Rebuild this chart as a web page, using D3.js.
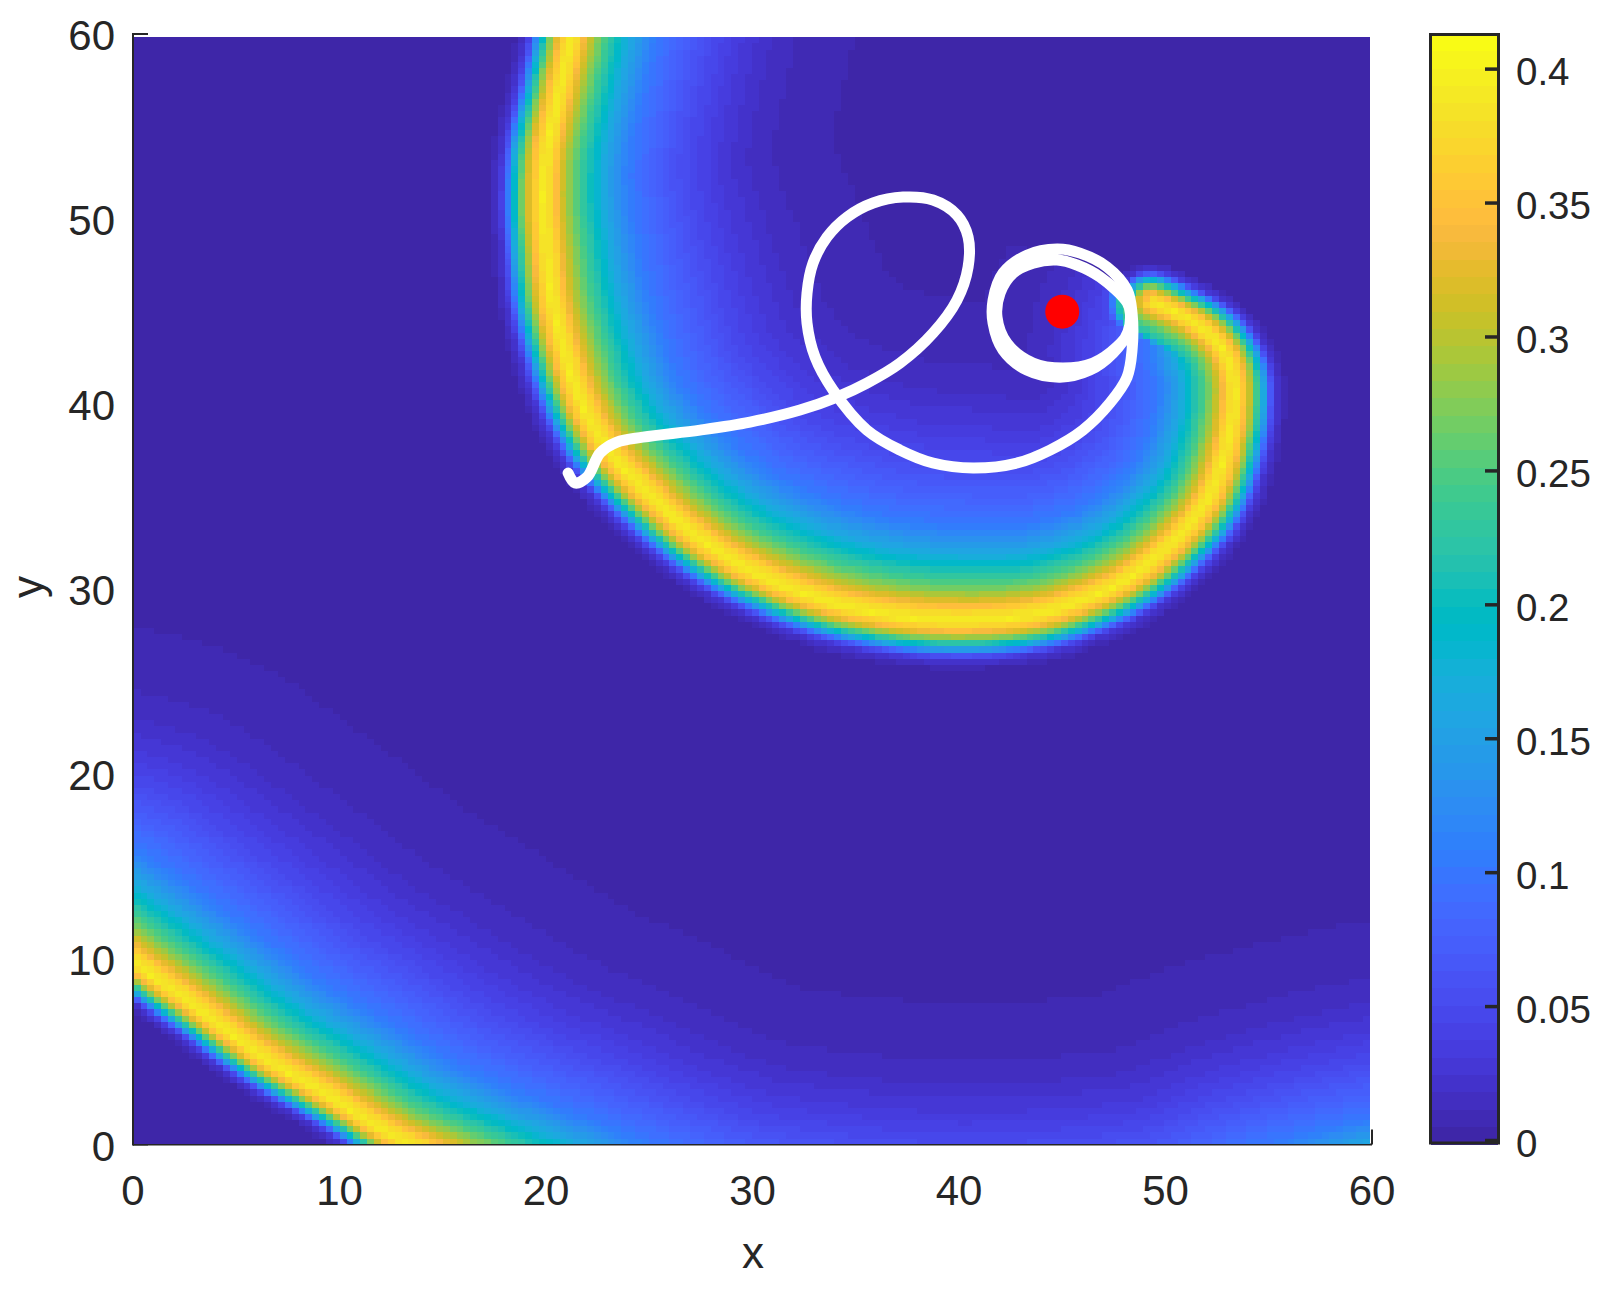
<!DOCTYPE html>
<html><head><meta charset="utf-8">
<style>html,body{margin:0;padding:0;background:#fff}svg{display:block}text{font-family:"Liberation Sans",Arial,sans-serif;fill:#262626}</style>
<script src="https://cdn.jsdelivr.net/npm/d3@7"></script>
</head><body><svg id="c" width="1606" height="1292"></svg>
<script>
// Parula colour map (64 levels)
const parula=[[.2422,.1504,.6603],[.2504,.1650,.7076],[.2578,.1818,.7511],[.2647,.1978,.7952],[.2706,.2147,.8364],[.2751,.2342,.8710],[.2783,.2559,.8991],[.2803,.2782,.9221],[.2813,.3006,.9414],[.2810,.3228,.9579],[.2795,.3447,.9717],[.2760,.3667,.9829],[.2699,.3892,.9906],[.2602,.4123,.9952],[.2440,.4358,.9988],[.2206,.4603,.9973],[.1963,.4847,.9892],[.1834,.5074,.9798],[.1786,.5289,.9682],[.1764,.5499,.9520],[.1687,.5703,.9359],[.1540,.5902,.9218],[.1460,.6091,.9079],[.1380,.6276,.8973],[.1248,.6459,.8883],[.1113,.6635,.8763],[.0952,.6798,.8598],[.0689,.6948,.8394],[.0297,.7082,.8163],[.0036,.7203,.7917],[.0067,.7312,.7660],[.0433,.7411,.7394],[.0964,.7500,.7120],[.1408,.7584,.6842],[.1717,.7670,.6554],[.1938,.7758,.6251],[.2161,.7843,.5923],[.2470,.7918,.5567],[.2906,.7973,.5188],[.3406,.8008,.4789],[.3909,.8029,.4354],[.4456,.8024,.3909],[.5044,.7993,.3480],[.5616,.7942,.3045],[.6174,.7876,.2612],[.6720,.7793,.2227],[.7242,.7698,.1910],[.7738,.7598,.1646],[.8203,.7498,.1535],[.8634,.7406,.1596],[.9035,.7330,.1774],[.9393,.7288,.2100],[.9728,.7298,.2394],[.9956,.7434,.2371],[.9970,.7659,.2199],[.9952,.7893,.2028],[.9892,.8136,.1885],[.9786,.8386,.1766],[.9676,.8639,.1643],[.9610,.8890,.1537],[.9597,.9135,.1423],[.9628,.9373,.1265],[.9691,.9606,.1064],[.9769,.9839,.0805]];

const xTicks=[0,10,20,30,40,50,60];
const yTicks=[0,10,20,30,40,50,60];
const cTicks=[0,0.05,0.1,0.15,0.2,0.25,0.3,0.35,0.4];
const cTickLabels=["0","0.05","0.1","0.15","0.2","0.25","0.3","0.35","0.4"];

// Wave crest: [x, y, tail stretch, front stretch, tail cut-off]
const crestUpper=[[21.6,62,.85,1,0],[21.2,60,.85,1,0],[20.5,56.5,.85,1,0],[19.95,53.7,.87,1,0],[19.8,51,.9,1,0],[19.95,48.3,.95,1,0],[20.2,45.6,1,1,0],[20.8,42.9,1.02,1,0],[21.6,40.2,1.03,1,0],[22.95,37.5,1.05,1,0],[25.2,34.8,1.05,1,0],[27.5,32.6,1.05,1,0],[30,30.9,1.08,1,0],[33.3,29.4,1.1,1,0],[36.5,28.6,1.1,1,0],[39.7,28.3,1.1,1,0],[43,28.5,1.05,1,0],[45.5,29.2,1,1,0],[48.2,30.6,.95,1,0],[50.6,32.8,.9,1,0],[52.2,35.2,.85,1,0],[53.1,38.4,.8,.97,0],[53.3,41.1,.78,.95,0],[52.8,42.9,.75,.9,0],[51.7,44.2,.72,.85,2],[50.1,45.2,.7,.8,7],[49.3,45.6,.7,.8,9]];
const crestLower=[[-2,11.4,1.05,.8,0],[0,9.8,1.05,.8,0],[2.9,7.45,1.05,.8,0],[6.15,4.75,1.05,.8,0],[9.4,2.6,1.05,.8,0],[12.9,.2,1.05,.8,0],[17,-1.6,1,.8,0],[20,-2.9,1,.8,0],[25,-4.8,.95,.8,0],[30,-6.4,.95,.8,0],[40,-7.4,.95,.8,0],[50,-6.6,.95,.8,0],[55,-4.7,.95,.8,0],[60,-3.2,.95,.8,0],[64,-2.6,.95,.8,0],[72,-2.6,.95,.8,0],[80,-2.6,.95,.8,0]];
// Cross-section of a crest: value against distance behind and ahead of it
const tailDist=[0,.5,.8,1.45,2.1,2.75,3.4,4.7,6.3,7.9,9.5,11.6,14,17];
const tailVal=[.395,.37,.335,.28,.235,.195,.16,.105,.075,.05,.032,.015,.007,.004];
const frontDist=[0,.5,1,1.45,1.85,2.1,2.6];
const frontVal=[.395,.35,.27,.17,.06,.025,.004];

// Tip trajectory
const pathX=[21.07,21.40,21.99,22.62,23.44,24.70,27.46,29.88,32.30,34.09,35.54,37.14,38.74,39.90,40.44,40.44,39.90,38.74,37.29,35.84,34.58,33.61,32.93,32.64,32.64,33.03,33.90,35.54,37.14,38.74,40.68,42.81,44.41,46.00,47.31,48.14,48.38,48.38,48.14,47.17,45.86,44.75,43.29,42.13,41.65,41.65,42.13,43.29,44.89,46.34,47.46,48.18,48.30,48.14,46.83,45.71,44.75,43.58,42.62,41.99,41.84,42.32,43.58,45.04,46.49,47.65,48.28,48.38];
const pathY=[36.28,35.74,36.06,37.36,37.95,38.22,38.60,39.03,39.68,40.38,41.14,42.22,43.84,45.62,47.41,49.03,50.22,51.03,51.19,50.87,50.11,49.03,47.62,46.00,44.38,42.54,40.76,38.60,37.52,36.82,36.55,36.82,37.52,38.60,40.06,41.46,42.92,44.92,46.17,47.41,48.16,48.38,48.05,47.08,45.62,44.38,42.92,41.84,41.46,41.84,42.76,43.90,44.90,45.50,46.87,47.52,47.79,47.62,47.08,46.00,44.70,43.30,42.22,41.95,42.22,43.10,44.00,44.70];
const coreX=[45], coreY=[45];

const gridCols=180, gridRows=180, imageXMax=59.87, imageYMax=59.84;
const colorMin=-0.0013, colorMax=0.4133;

const svg=d3.select("#c");
const x=d3.scaleLinear().domain([0,60]).range([133,1372]);
const y=d3.scaleLinear().domain([0,60]).range([1144.5,34]);
const cY=d3.scaleLinear().domain([colorMin,colorMax]).range([1144,33.5]);
const idx=d3.scaleQuantize().domain([colorMin,colorMax]).range(d3.range(64));
const rgb=c=>d3.rgb(c[0]*255,c[1]*255,c[2]*255).formatHex();
const fill=v=>rgb(parula[idx(v)]);
const tailP=d3.scaleLinear().domain(tailDist).range(tailVal).clamp(true);
const frontP=d3.scaleLinear().domain(frontDist).range(frontVal).clamp(true);

// smooth a read-off crest so it has no corners
function smooth(c,n){
  const out=[];
  for(let i=0;i<c.length-1;i++){
    const p0=c[Math.max(0,i-1)],p1=c[i],p2=c[i+1],p3=c[Math.min(c.length-1,i+2)];
    for(let k=0;k<n;k++){
      const t=k/n;
      out.push(p1.map((_,m)=>m<2
        ?.5*(2*p1[m]+(p2[m]-p0[m])*t+(2*p0[m]-5*p1[m]+4*p2[m]-p3[m])*t*t+(3*p1[m]-p0[m]-3*p2[m]+p3[m])*t*t*t)
        :p1[m]+t*(p2[m]-p1[m])));
    }
  }
  out.push(c[c.length-1]);
  return out;
}
const upperFine=smooth(crestUpper,5), lowerFine=smooth(crestLower,5);

function crestValue(c,px,py){
  let best=1e9,frontV=0,tailMax=0,nearLeft=false;
  for(let i=0;i<c.length-1;i++){
    const a=c[i],b=c[i+1],dx=b[0]-a[0],dy=b[1]-a[1];
    const L2=dx*dx+dy*dy;
    const raw=((px-a[0])*dx+(py-a[1])*dy)/L2,t=Math.max(0,Math.min(1,raw));
    const qx=a[0]+t*dx,qy=a[1]+t*dy,d=Math.hypot(px-qx,py-qy);
    const left=dx*(py-a[1])-dy*(px-a[0])>0;
    const past=(i===c.length-2&&raw>1)?(raw-1)*Math.sqrt(L2):0;
    if(left){
      const tail=a[2]+t*(b[2]-a[2]),cut=a[4]+t*(b[4]-a[4]);
      tailMax=Math.max(tailMax,tailP(d/tail+cut*Math.max(0,d-1.8)+6*past));
    }
    if(d<best){
      best=d;nearLeft=left;
      frontV=frontP(d/(a[3]+t*(b[3]-a[3])));
    }
  }
  return nearLeft?tailMax:frontV;
}
const dxCell=imageXMax/gridCols, dyCell=imageYMax/gridRows;
const cells=[];
for(let j=0;j<gridRows;j++)for(let i=0;i<gridCols;i++){
  const px=(i+.5)*dxCell,py=(j+.5)*dyCell;
  cells.push({i,j,v:Math.max(crestValue(upperFine,px,py),crestValue(lowerFine,px,py),.004)});
}

// axes (drawn beneath the image, as in the original)
const ax=svg.append("g");
ax.selectAll("line.xt").data(xTicks).join("line").attr("class","xt")
  .attr("x1",d=>x(d)).attr("x2",d=>x(d)).attr("y1",y(0)).attr("y2",y(0)-15)
  .attr("stroke","#262626").attr("stroke-width",2);
ax.selectAll("line.yt").data(yTicks).join("line").attr("class","yt")
  .attr("y1",d=>y(d)).attr("y2",d=>y(d)).attr("x1",x(0)).attr("x2",x(0)+15)
  .attr("stroke","#262626").attr("stroke-width",2);
ax.append("line").attr("x1",x(0)).attr("x2",x(0)).attr("y1",y(0)+1).attr("y2",y(60)-1).attr("stroke","#262626").attr("stroke-width",2);
ax.append("line").attr("x1",x(0)).attr("x2",x(60)).attr("y1",y(0)).attr("y2",y(0)).attr("stroke","#262626").attr("stroke-width",2);

// heat map
svg.append("g").attr("shape-rendering","crispEdges").selectAll("rect").data(cells).join("rect")
  .attr("x",d=>x(d.i*dxCell)+.7)
  .attr("y",d=>y((d.j+1)*dyCell))
  .attr("width",d=>x((d.i+1)*dxCell)-x(d.i*dxCell)+.3)
  .attr("height",d=>y(d.j*dyCell)-y((d.j+1)*dyCell)+.3-(d.j===0?.7:0))
  .attr("fill",d=>fill(d.v));

// trajectory and core
const line=d3.line().x(d=>x(d[0])).y(d=>y(d[1])).curve(d3.curveCatmullRom.alpha(.5));
svg.append("path").attr("d",line(pathX.map((v,i)=>[v,pathY[i]])))
  .attr("fill","none").attr("stroke","#fff").attr("stroke-width",11).attr("stroke-linecap","round").attr("stroke-linejoin","round");
svg.selectAll("circle.core").data(coreX).join("circle").attr("class","core")
  .attr("cx",d=>x(d)).attr("cy",(d,i)=>y(coreY[i])).attr("r",17).attr("fill","#ff0000");

// tick labels
svg.selectAll("text.xl").data(xTicks).join("text").attr("class","xl")
  .attr("x",d=>x(d)).attr("y",1205).attr("text-anchor","middle").attr("font-size",42).text(d=>d);
svg.selectAll("text.yl").data(yTicks).join("text").attr("class","yl")
  .attr("x",115).attr("y",d=>y(d)+16).attr("text-anchor","end").attr("font-size",42).text(d=>d);
svg.append("text").attr("x",753).attr("y",1268).attr("text-anchor","middle").attr("font-size",44).text("x");
svg.append("text").attr("transform","translate(43,587) rotate(-90)").attr("text-anchor","middle").attr("font-size",44).text("y");

// colour bar
const barL=1431,barR=1498;
const levels=d3.range(64);
const lv=(colorMax-colorMin)/64;
svg.append("g").attr("shape-rendering","crispEdges").selectAll("rect").data(levels).join("rect")
  .attr("x",barL).attr("width",barR-barL)
  .attr("y",d=>cY(colorMin+(d+1)*lv)).attr("height",d=>cY(colorMin+d*lv)-cY(colorMin+(d+1)*lv)+.5)
  .attr("fill",d=>rgb(parula[d]));
svg.selectAll("line.ct").data(cTicks).join("line").attr("class","ct")
  .attr("x1",barR).attr("x2",barR-13).attr("y1",d=>cY(d)).attr("y2",d=>cY(d))
  .attr("stroke","#262626").attr("stroke-width",3.5);
svg.append("rect").attr("x",barL-.5).attr("y",34.5).attr("width",barR-barL+1).attr("height",1108.5)
  .attr("fill","none").attr("stroke","#262626").attr("stroke-width",3);
svg.selectAll("text.cl").data(cTicks).join("text").attr("class","cl")
  .attr("x",1516).attr("y",d=>cY(d)+16).attr("font-size",38.5).text((d,i)=>cTickLabels[i]);
</script></body></html>
